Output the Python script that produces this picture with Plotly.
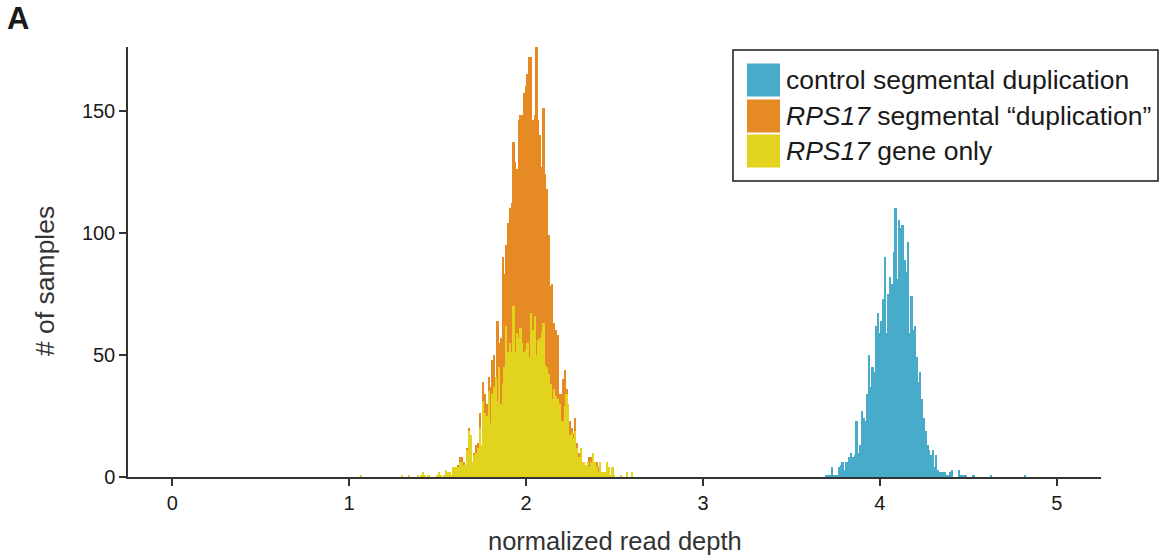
import plotly.graph_objects as go

# ---------------- data (histogram counts, bin width 0.01) ----------------
bin_width = 0.01

# RPS17 gene only (yellow) and RPS17 segmental "duplication" (orange); first bin left edge 1.005
rps17_start = 1.005
gene_only = [
    0, 0, 0, 0, 0, 0, 1, 0, 0, 0,
    0, 0, 0, 0, 0, 0, 0, 0, 0, 0,
    0, 0, 0, 0, 0, 0, 0, 0, 0, 1,
    0, 0, 0, 1, 0, 0, 0, 0, 1, 0,
    1, 2, 1, 0, 1, 0, 0, 0, 0, 1,
    2, 1, 0, 1, 3, 2, 2, 1, 4, 4,
    4, 4, 6, 6, 5, 5, 11, 19, 17, 6,
    9, 10, 12, 20, 13, 31, 26, 25, 35, 22,
    34, 37, 41, 31, 45, 30, 38, 45, 62, 51,
    55, 51, 70, 51, 59, 57, 61, 55, 51, 52,
    55, 49, 67, 60, 66, 50, 56, 57, 59, 63,
    46, 45, 42, 38, 32, 36, 33, 32, 30, 23,
    23, 29, 34, 30, 17, 18, 16, 19, 12, 8,
    12, 6, 6, 5, 6, 4, 6, 10, 6, 4,
    2, 6, 2, 2, 2, 6, 4, 1, 4, 1,
    0, 0, 0, 1, 0, 0, 2, 0, 0, 2,
]
segmental = [
    0, 0, 0, 0, 0, 0, 0, 0, 0, 0,
    0, 0, 0, 0, 0, 0, 0, 0, 0, 0,
    0, 0, 0, 0, 0, 0, 0, 0, 0, 0,
    0, 0, 0, 0, 0, 0, 0, 0, 0, 0,
    0, 0, 0, 0, 0, 0, 0, 0, 0, 0,
    0, 0, 0, 0, 0, 0, 0, 0, 0, 0,
    0, 5, 8, 8, 6, 5, 12, 20, 17, 6,
    10, 13, 14, 26, 13, 39, 34, 30, 41, 37,
    48, 50, 41, 64, 55, 57, 90, 83, 95, 104,
    110, 112, 137, 129, 126, 146, 148, 148, 157, 160,
    165, 172, 172, 146, 148, 176, 146, 140, 127, 151,
    124, 118, 99, 78, 79, 63, 60, 58, 34, 34,
    40, 44, 36, 30, 23, 20, 18, 24, 14, 10,
    12, 6, 6, 5, 6, 8, 8, 10, 6, 6,
    4, 6, 0, 0, 0, 0, 0, 0, 0, 0,
    0, 0, 0, 0, 0, 0, 0, 0, 0, 0,
]

# control segmental duplication (blue); first bin left edge 3.695
control_start = 3.695
control = [
    1, 1, 1, 4, 1, 1, 1, 4, 5, 6,
    3, 6, 6, 8, 10, 8, 9, 23, 10, 13,
    27, 24, 23, 34, 50, 37, 45, 43, 62, 67,
    59, 64, 73, 90, 59, 75, 82, 79, 92, 110,
    81, 105, 102, 103, 89, 84, 96, 59, 74, 60,
    62, 49, 39, 43, 32, 24, 19, 13, 11, 9,
    11, 4, 9, 3, 2, 2, 2, 2, 1, 1,
    2, 3, 0, 0, 0, 3, 1, 1, 1, 1,
    0, 0, 0, 1, 0, 0, 0, 0, 0, 0,
    0, 0, 0, 1, 0, 0, 0, 0, 0, 0,
    0, 0, 0, 0, 0, 0, 0, 0, 0, 0,
    0, 0, 1,
]

x_ticks = [0, 1, 2, 3, 4, 5]
y_ticks = [0, 50, 100, 150]
series_names = [
    "control segmental duplication",
    "<i>RPS17</i> segmental \u201cduplication\u201d",
    "<i>RPS17</i> gene only",
]
colors = ["#48abc9", "#e68a24", "#e1d31e"]


def centers(start, counts):
    return [start + bin_width * (i + 0.5) for i in range(len(counts))]


fig = go.Figure()
for xs, ys, col, name in [
    (centers(control_start, control), control, colors[0], series_names[0]),
    (centers(rps17_start, segmental), segmental, colors[1], series_names[1]),
    (centers(rps17_start, gene_only), gene_only, colors[2], series_names[2]),
]:
    fig.add_trace(go.Bar(x=xs, y=ys, width=bin_width, marker=dict(color=col, line=dict(width=0)),
                         name=name, showlegend=False))

# ---------------- layout ----------------
W, H = 1165, 556
L, R, T, B = 128, 1101, 47, 477


def px(x):
    return (x - L) / (R - L)


def py(y):
    return (B - y) / (B - T)


FONT = "Liberation Sans, Arial, Helvetica, sans-serif"
axis_col = "#333333"
tick_font = dict(size=20, family=FONT, color="#1a1a1a")

fig.update_layout(
    width=W, height=H,
    margin=dict(l=L, r=W - R, t=T, b=H - B, pad=0),
    paper_bgcolor="white", plot_bgcolor="white",
    barmode="overlay", bargap=0,
    font=dict(family=FONT, color="#1a1a1a"),
    xaxis=dict(range=[-0.25, 5.25], tickvals=x_ticks, ticks="outside", ticklen=7, tickwidth=2,
               tickcolor=axis_col, showline=True, linecolor=axis_col, linewidth=1.5,
               showgrid=False, zeroline=False, tickfont=tick_font),
    yaxis=dict(range=[0, 176], tickvals=y_ticks, ticks="outside", ticklen=7, tickwidth=2,
               tickcolor=axis_col, showline=True, linecolor=axis_col, linewidth=1.5,
               showgrid=False, zeroline=False, tickfont=tick_font),
)

shapes = []
annotations = []

# axis titles
annotations.append(dict(text="normalized read depth", x=px(615), y=py(541), xref="paper", yref="paper",
                        showarrow=False, xanchor="center", yanchor="middle",
                        font=dict(size=25.5, family=FONT, color="#333333")))
annotations.append(dict(text="# of samples", x=px(45), y=py(281), xref="paper", yref="paper",
                        showarrow=False, xanchor="center", yanchor="middle", textangle=-90,
                        font=dict(size=26.5, family=FONT, color="#333333")))
# panel letter
annotations.append(dict(text="<b>A</b>", x=px(5), y=py(19), xref="paper", yref="paper",
                        showarrow=False, xanchor="left", yanchor="middle",
                        font=dict(size=31, family=FONT, color="#1a1a1a")))

# legend box
shapes.append(dict(type="rect", xref="paper", yref="paper", x0=px(733), x1=px(1158), y0=py(50), y1=py(181),
                   line=dict(color="#1a1a1a", width=1.5), fillcolor="white", layer="above"))
row_centers = [80, 116, 151]
for col, name, yc in zip(colors, series_names, row_centers):
    shapes.append(dict(type="rect", xref="paper", yref="paper", x0=px(747), x1=px(780),
                       y0=py(yc + 16.5), y1=py(yc - 16.5), line=dict(width=0), fillcolor=col, layer="above"))
    annotations.append(dict(text=name, x=px(784), y=py(yc), xref="paper", yref="paper", showarrow=False,
                            xanchor="left", yanchor="middle", font=dict(size=26.5, family=FONT, color="#1a1a1a")))

fig.update_layout(shapes=shapes, annotations=annotations)
fig.write_html("out.html", config={"displayModeBar": False},
               post_script="document.body.style.margin='0';document.body.style.overflow='hidden';")
